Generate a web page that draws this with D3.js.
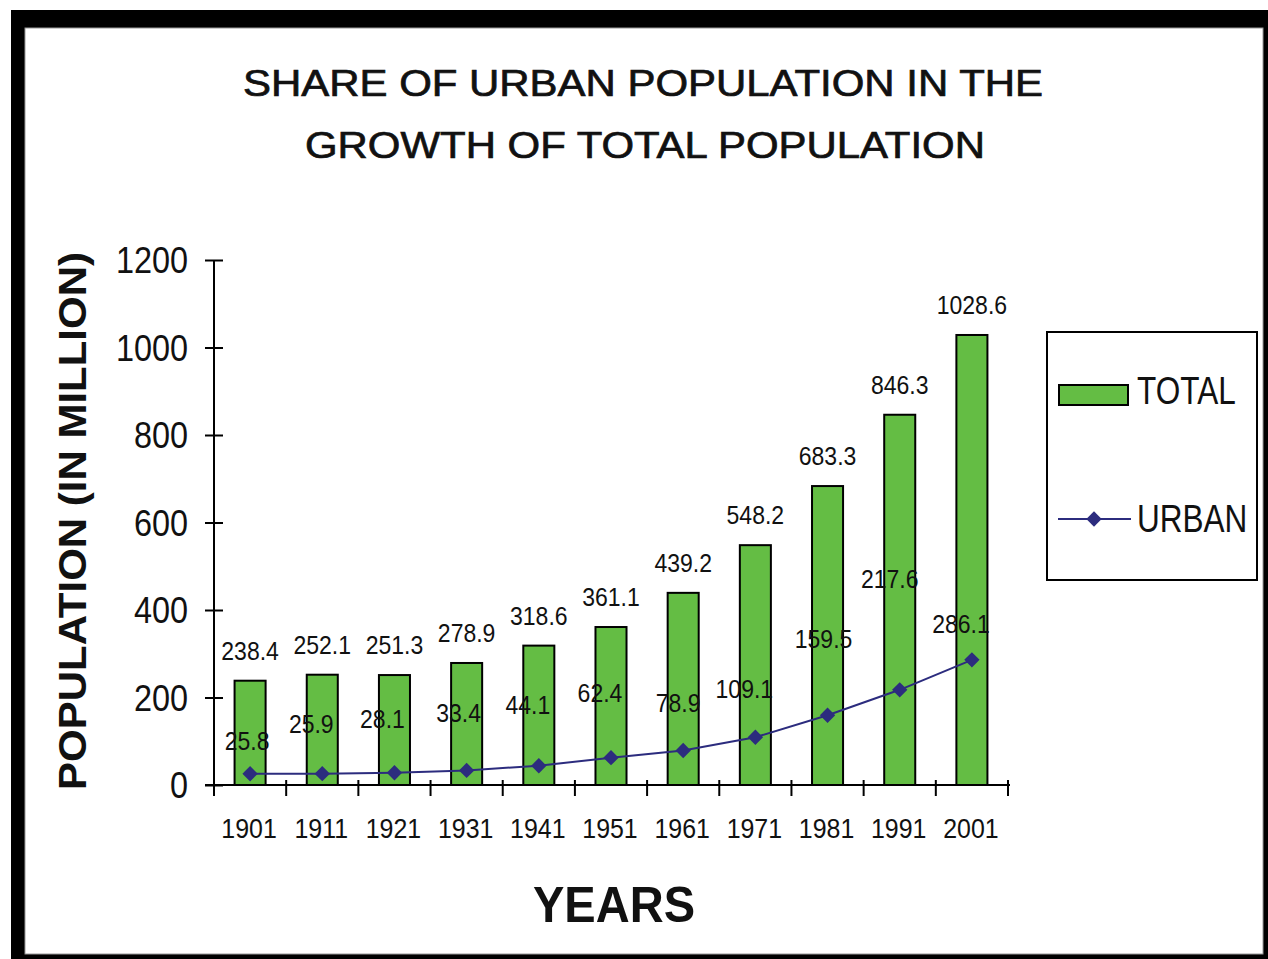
<!DOCTYPE html>
<html>
<head>
<meta charset="utf-8">
<script src="https://cdn.jsdelivr.net/npm/d3@7"></script>
<style>
  html, body { margin: 0; padding: 0; background: #fff; }
  svg { display: block; }
  text { font-family: "Liberation Sans", Arial, sans-serif; fill: #111; }
</style>
</head>
<body>
<svg id="chart" width="1268" height="959"></svg>
<script>
// Census years and population (in million)
const years = ["1901", "1911", "1921", "1931", "1941", "1951", "1961", "1971", "1981", "1991", "2001"];
const totalPop = [238.4, 252.1, 251.3, 278.9, 318.6, 361.1, 439.2, 548.2, 683.3, 846.3, 1028.6];
const urbanPop = [25.8, 25.9, 28.1, 33.4, 44.1, 62.4, 78.9, 109.1, 159.5, 217.6, 286.1];
const yTicks = [0, 200, 400, 600, 800, 1000, 1200];
const titleLines = ["SHARE OF URBAN POPULATION IN THE", "GROWTH OF TOTAL POPULATION"];
const seriesNames = ["TOTAL", "URBAN"];

// Hand-placed nudges for the urban value labels (pixels from each point)
const urbanLabelDx = [-3, -11, -12, -8, -11, -11, -5, -11, -4, -10, -11];
const urbanLabelDy = [-24, -41, -45, -48, -52, -56, -38, -39, -67, -102, -27];

const barColor = "#64bd44";
const lineColor = "#2c2c7e";

const svg = d3.select("#chart");

// Squeeze or stretch a text element horizontally by a factor of its natural width
function squeeze(sel, factor) {
  sel.each(function () {
    const w = this.getComputedTextLength();
    d3.select(this).attr("textLength", w * factor).attr("lengthAdjust", "spacingAndGlyphs");
  });
}

// Outer frame
svg.append("rect").attr("x", 11).attr("y", 10).attr("width", 1257).attr("height", 949).attr("fill", "#000");
svg.append("rect").attr("x", 25).attr("y", 28).attr("width", 1238).attr("height", 926)
  .attr("fill", "#fff").attr("stroke", "#999").attr("stroke-width", 1);

// Title
const titleWidths = [800, 680];
svg.selectAll("text.title").data(titleLines).join("text")
  .attr("class", "title")
  .attr("x", (d, i) => i === 0 ? 643 : 645)
  .attr("y", (d, i) => i === 0 ? 96 : 158)
  .attr("text-anchor", "middle")
  .attr("font-size", 37)
  .attr("stroke", "#111")
  .attr("stroke-width", 0.7)
  .attr("textLength", (d, i) => titleWidths[i])
  .attr("lengthAdjust", "spacingAndGlyphs")
  .text(d => d);

// Scales
const x = d3.scaleBand().domain(years).range([214, 1008]).paddingInner(0.57).paddingOuter(0.285);
const y = d3.scaleLinear().domain([0, 1200]).range([785, 260]);
const cx = d => x(d) + x.bandwidth() / 2;

// Bars (total population)
svg.append("g").selectAll("rect").data(years).join("rect")
  .attr("x", d => x(d))
  .attr("width", x.bandwidth())
  .attr("y", (d, i) => y(totalPop[i]))
  .attr("height", (d, i) => y(0) - y(totalPop[i]))
  .attr("fill", barColor)
  .attr("stroke", "#000")
  .attr("stroke-width", 2);

// Y axis
const yAxis = svg.append("g").attr("transform", "translate(214,0)")
  .call(d3.axisLeft(y).tickValues(yTicks).tickFormat(d3.format("d"))
    .tickSize(9).tickPadding(17).tickSizeOuter(0));
yAxis.select(".domain").attr("stroke", "#000").attr("stroke-width", 2).attr("d", "M0,260V795");
yAxis.selectAll(".tick line").attr("stroke", "#000").attr("stroke-width", 2).attr("x2", -9).attr("x1", 9);
yAxis.selectAll(".tick text")
  .attr("font-size", 36).attr("fill", "#111").attr("dy", "0.36em")
  .style("font-family", "Liberation Sans, Arial, sans-serif")
  .call(squeeze, 0.9);

// X axis: ticks sit on category boundaries
const boundaries = years.map(d => x(d) - x.step() * x.paddingInner() / 2).concat([1008]);
const xg = svg.append("g");
xg.append("line").attr("x1", 205).attr("x2", 1010).attr("y1", y(0)).attr("y2", y(0))
  .attr("stroke", "#000").attr("stroke-width", 2);
xg.selectAll("line.tk").data(boundaries).join("line")
  .attr("class", "tk")
  .attr("x1", d => d).attr("x2", d => d)
  .attr("y1", y(0) - 5).attr("y2", y(0) + 11)
  .attr("stroke", "#000").attr("stroke-width", 2);
xg.selectAll("text").data(years).join("text")
  .attr("x", d => cx(d) - 1)
  .attr("y", 838)
  .attr("text-anchor", "middle")
  .attr("font-size", 28)
  .text(d => d)
  .call(squeeze, 0.89);

// Urban line with diamond markers
const line = d3.line().x(d => cx(d)).y((d, i) => y(urbanPop[i]));
svg.append("path").datum(years)
  .attr("d", line)
  .attr("fill", "none")
  .attr("stroke", lineColor)
  .attr("stroke-width", 2);
svg.append("g").selectAll("path").data(years).join("path")
  .attr("transform", (d, i) => `translate(${cx(d)},${y(urbanPop[i])})`)
  .attr("d", d3.symbol(d3.symbolDiamond2, 150)())
  .attr("fill", lineColor);

// Value labels for total bars
svg.append("g").selectAll("text").data(years).join("text")
  .attr("x", d => cx(d))
  .attr("y", (d, i) => y(totalPop[i]) - 21)
  .attr("text-anchor", "middle")
  .attr("font-size", 25)
  .text((d, i) => totalPop[i].toFixed(1))
  .call(squeeze, 0.92);

// Value labels for urban points
svg.append("g").selectAll("text").data(years).join("text")
  .attr("x", (d, i) => cx(d) + urbanLabelDx[i])
  .attr("y", (d, i) => y(urbanPop[i]) + urbanLabelDy[i])
  .attr("text-anchor", "middle")
  .attr("font-size", 25)
  .text((d, i) => urbanPop[i].toFixed(1))
  .call(squeeze, 0.92);

// Axis titles
svg.append("text")
  .attr("transform", "translate(86,521) rotate(-90)")
  .attr("text-anchor", "middle")
  .attr("font-size", 38)
  .attr("font-weight", "bold")
  .attr("textLength", 538).attr("lengthAdjust", "spacingAndGlyphs")
  .text("POPULATION (IN MILLION)");
svg.append("text")
  .attr("x", 614).attr("y", 922)
  .attr("text-anchor", "middle")
  .attr("font-size", 50)
  .attr("font-weight", "bold")
  .attr("textLength", 162).attr("lengthAdjust", "spacingAndGlyphs")
  .text("YEARS");

// Legend
const lg = svg.append("g");
lg.append("rect").attr("x", 1047).attr("y", 332).attr("width", 210).attr("height", 248)
  .attr("fill", "#fff").attr("stroke", "#000").attr("stroke-width", 2);
lg.append("rect").attr("x", 1059).attr("y", 385).attr("width", 69).attr("height", 20)
  .attr("fill", barColor).attr("stroke", "#000").attr("stroke-width", 2);
lg.append("line").attr("x1", 1058).attr("x2", 1131).attr("y1", 519).attr("y2", 519)
  .attr("stroke", lineColor).attr("stroke-width", 2);
lg.append("path").attr("transform", "translate(1094,519)")
  .attr("d", d3.symbol(d3.symbolDiamond2, 150)()).attr("fill", lineColor);
// Legend labels are narrowed with a horizontal scale
lg.selectAll("text").data(seriesNames).join("text")
  .attr("transform", (d, i) => `translate(1137,${i === 0 ? 404 : 532}) scale(0.83,1)`)
  .attr("font-size", 38)
  .text(d => d);
</script>
</body>
</html>
